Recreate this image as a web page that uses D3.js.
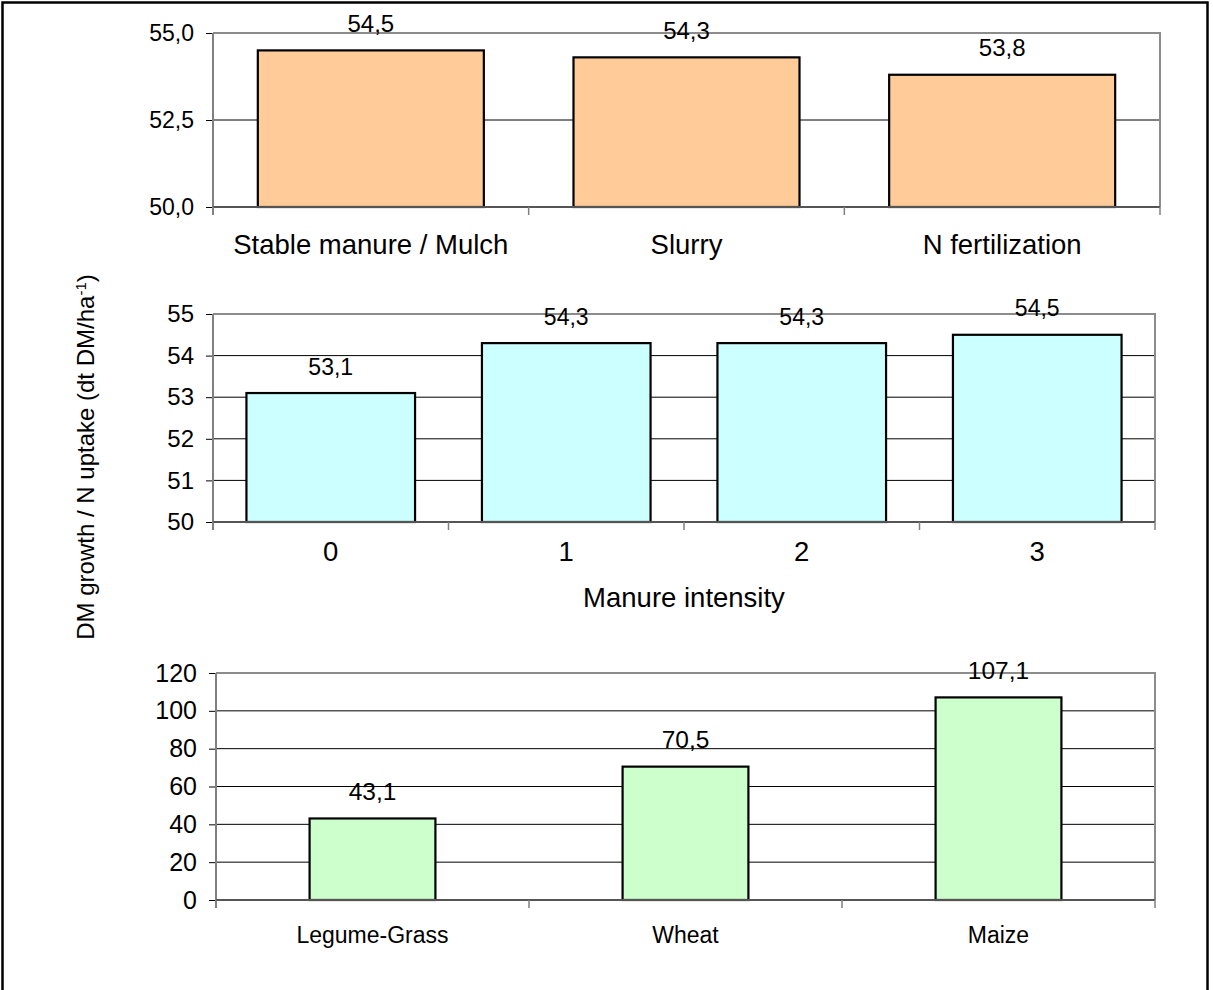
<!DOCTYPE html>
<html>
<head>
<meta charset="utf-8">
<script src="https://cdn.jsdelivr.net/npm/d3@7"></script>
<style>
  html, body { margin: 0; padding: 0; background: #fff; }
  svg { display: block; font-family: "Liberation Sans", Arial, sans-serif; }
</style>
</head>
<body>
<svg id="chart" width="1213" height="990"></svg>
<script>
// Fertilization type
const fertCategories = ["Stable manure / Mulch", "Slurry", "N fertilization"];
const fertValues = [54.5, 54.3, 53.8];
const fertTicks = [50.0, 52.5, 55.0];

// Manure intensity
const intensityCategories = ["0", "1", "2", "3"];
const intensityValues = [53.1, 54.3, 54.3, 54.5];
const intensityTicks = [50, 51, 52, 53, 54, 55];

// Crop
const cropCategories = ["Legume-Grass", "Wheat", "Maize"];
const cropValues = [43.1, 70.5, 107.1];
const cropTicks = [0, 20, 40, 60, 80, 100, 120];

const yTitle = "DM growth / N uptake (dt DM/ha";
const xTitleIntensity = "Manure intensity";

const svg = d3.select("#chart");

// outer frame
svg.append("rect")
  .attr("x", 2.5).attr("y", 2.5)
  .attr("width", 1205).attr("height", 1000)
  .attr("fill", "none").attr("stroke", "#000").attr("stroke-width", 2.5);

const comma1 = v => d3.format(".1f")(v).replace(".", ",");
const commaInt = v => d3.format("d")(v);

function panel(opts) {
  const { cats, vals, ticks, tickFmt, x0, x1, y0, y1, pad, fill,
          catBase, catFont, tickFont, valFont } = opts;
  const g = svg.append("g");

  const x = d3.scaleBand().domain(cats).range([x0, x1])
    .paddingInner(pad).paddingOuter(pad / 2);
  const y = d3.scaleLinear().domain(d3.extent(ticks)).range([y1, y0]);
  const step = x.step();

  // gridlines
  g.append("g").selectAll("line")
    .data(ticks.slice(1, -1))
    .join("line")
    .attr("x1", x0).attr("x2", x1)
    .attr("y1", d => y(d)).attr("y2", d => y(d))
    .attr("stroke", "#000").attr("stroke-width", 1);

  // plot area top and right border
  g.append("path")
    .attr("d", `M${x0},${y0}H${x1}V${y1}`)
    .attr("fill", "none").attr("stroke", "#8c8c8c").attr("stroke-width", 2);

  // y axis
  const yAxis = d3.axisLeft(y).tickValues(ticks).tickFormat(tickFmt)
    .tickSize(7).tickPadding(12);
  const ya = g.append("g").attr("transform", `translate(${x0},0)`).call(yAxis);
  ya.select(".domain").remove();
  ya.selectAll(".tick line").attr("stroke", "#000").attr("stroke-width", 1);
  ya.selectAll(".tick text")
    .attr("font-size", tickFont).attr("fill", "#000")
    .attr("font-family", "Liberation Sans, Arial, sans-serif");

  g.append("line")
    .attr("x1", x0).attr("x2", x0).attr("y1", y0).attr("y2", y1 + 8)
    .attr("stroke", "#808080").attr("stroke-width", 2);

  // bars
  g.append("g").selectAll("rect")
    .data(vals)
    .join("rect")
    .attr("x", (d, i) => x(cats[i]))
    .attr("width", x.bandwidth())
    .attr("y", d => y(d))
    .attr("height", d => y(ticks[0]) - y(d))
    .attr("fill", fill).attr("stroke", "#000").attr("stroke-width", 2.2);

  // category axis
  g.append("line")
    .attr("x1", x0).attr("x2", x1).attr("y1", y1).attr("y2", y1)
    .attr("stroke", "#555").attr("stroke-width", 2);
  g.append("g").selectAll("line")
    .data(d3.range(cats.length + 1))
    .join("line")
    .attr("x1", i => x0 + i * step).attr("x2", i => x0 + i * step)
    .attr("y1", y1).attr("y2", y1 + 8)
    .attr("stroke", "#808080").attr("stroke-width", 1.5);

  g.append("g").selectAll("text")
    .data(cats)
    .join("text")
    .attr("x", d => x(d) + x.bandwidth() / 2)
    .attr("y", catBase)
    .attr("text-anchor", "middle")
    .attr("font-size", catFont)
    .text(d => d);

  // value labels
  g.append("g").selectAll("text")
    .data(vals)
    .join("text")
    .attr("x", (d, i) => x(cats[i]) + x.bandwidth() / 2)
    .attr("y", d => y(d) - 18.5)
    .attr("text-anchor", "middle")
    .attr("font-size", valFont)
    .text(d => comma1(d));
}

panel({
  cats: fertCategories, vals: fertValues, ticks: fertTicks, tickFmt: comma1,
  x0: 213, x1: 1160, y0: 33, y1: 207, pad: 0.284, fill: "#FFCC99",
  catBase: 254, catFont: 27.5, tickFont: 23, valFont: 24
});

panel({
  cats: intensityCategories, vals: intensityValues, ticks: intensityTicks, tickFmt: commaInt,
  x0: 213, x1: 1155, y0: 314, y1: 522, pad: 0.284, fill: "#CCFFFF",
  catBase: 561, catFont: 27.5, tickFont: 24, valFont: 23
});

svg.append("text")
  .attr("x", (213 + 1155) / 2).attr("y", 607)
  .attr("text-anchor", "middle").attr("font-size", 27.5)
  .text(xTitleIntensity);

panel({
  cats: cropCategories, vals: cropValues, ticks: cropTicks, tickFmt: commaInt,
  x0: 216, x1: 1155, y0: 673, y1: 900, pad: 0.598, fill: "#CCFFCC",
  catBase: 943, catFont: 23, tickFont: 25, valFont: 24.5
});

// shared y axis title
const yt = svg.append("text")
  .attr("transform", "translate(94,457) rotate(-90)")
  .attr("text-anchor", "middle")
  .attr("font-size", 24);
yt.append("tspan").text(yTitle);
yt.append("tspan").attr("font-size", 15).attr("baseline-shift", "super").text("-1");
yt.append("tspan").text(")");
</script>
</body>
</html>
